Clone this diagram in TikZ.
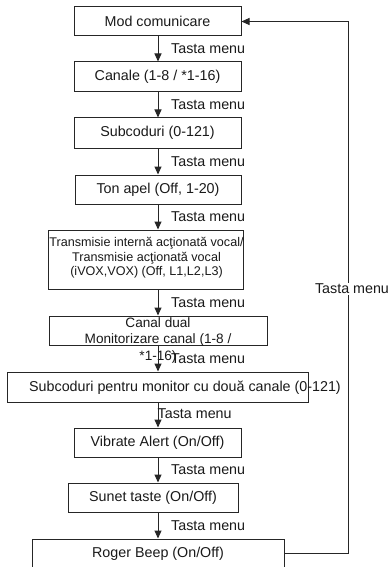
\documentclass[tikz,border=0pt]{standalone}
\usepackage{fontspec}
\setmainfont{Liberation Sans}
\usetikzlibrary{arrows.meta}

\tikzset{
  menubox/.style={draw=black!85, line width=1pt, rectangle, inner sep=0pt, minimum height=29pt},
  menutext/.style={inner sep=0pt, text=black!90, font=\fontsize{14.3}{16}\selectfont},
  keylabel/.style={menutext, anchor=west},
  navarrow/.style={draw=black!85, line width=1pt, -{Triangle[length=8pt,width=7pt]}}
}

\begin{document}
\begin{tikzpicture}[x=1pt,y=-1pt]
\useasboundingbox (0,0) rectangle (391,567);
\coordinate (arrx) at (158,0);
\coordinate (loopx) at (348,0);
% menu boxes
\node[menubox, menutext, minimum width=167pt] (mode) at (157.5,21.5) {Mod comunicare};
\node[menubox, menutext, minimum width=167pt, minimum height=30pt] (chan) at (157.5,77) {Canale (1-8 / *1-16)};
\node[menubox, menutext, minimum width=167pt, minimum height=30pt] (subc) at (157.5,133) {Subcoduri (0-121)};
\node[menubox, menutext, minimum width=166pt] (tone) at (158,189.5) {Ton apel (Off, 1-20)};
\node[menubox, minimum width=195pt, minimum height=59pt] (vox) at (145.5,259.5) {};
\node[menutext, align=center, font=\fontsize{12.6}{14.5}\selectfont] (voxtext) at (146.5,258)
  {Transmisie intern\u{a} ac\c{t}ionat\u{a} vocal/\\Transmisie ac\c{t}ionat\u{a} vocal\\(iVOX,VOX) (Off, L1,L2,L3)};
\node[menubox, minimum width=218pt] (dual) at (158,330.5) {};
\node[menutext, align=center, font=\fontsize{13.6}{16.5}\selectfont] (dualtext) at (158,340)
  {Canal dual\\Monitorizare canal (1-8 /\\*1-16)};
\node[menubox, minimum width=301pt, minimum height=30pt] (dsub) at (157.5,387) {};
\node[menutext] (dsubtext) at (185,388) {Subcoduri pentru monitor cu dou\u{a} canale (0-121)};
\node[menubox, menutext, minimum width=167pt] (vib) at (157.5,442.5) {Vibrate Alert (On/Off)};
\node[menubox, menutext, minimum width=170pt] (keys) at (153,497.5) {Sunet taste (On/Off)};
\node[menubox, menutext, minimum width=252pt] (beep) at (158,553.5) {Roger Beep (On/Off)};
% arrows down
\draw[navarrow] (mode.south -| arrx) -- (chan.north -| arrx);
\draw[navarrow] (chan.south -| arrx) -- (subc.north -| arrx);
\draw[navarrow] (subc.south -| arrx) -- (tone.north -| arrx);
\draw[navarrow] (tone.south -| arrx) -- (vox.north -| arrx);
\draw[navarrow] (vox.south -| arrx) -- (dual.north -| arrx);
\draw[navarrow] (dual.south -| arrx) -- (dsub.north -| arrx);
\draw[navarrow] (dsub.south -| arrx) -- (vib.north -| arrx);
\draw[navarrow] (vib.south -| arrx) -- (keys.north -| arrx);
\draw[navarrow] (keys.south -| arrx) -- (beep.north -| arrx);
% key labels
\node[keylabel] (k1) at (171,49) {Tasta menu};
\node[keylabel] (k2) at (171,105) {Tasta menu};
\node[keylabel] (k3) at (171,161.5) {Tasta menu};
\node[keylabel] (k4) at (171,217) {Tasta menu};
\node[keylabel] (k5) at (171,302.5) {Tasta menu};
\node[keylabel] (k6) at (171,358.5) {Tasta menu};
\node[keylabel] (k7) at (157.5,414) {Tasta menu};
\node[keylabel] (k8) at (171,470) {Tasta menu};
\node[keylabel] (k9) at (171,525.5) {Tasta menu};
% back to start
\draw[navarrow] (beep.east) -- (loopx |- beep.east) -- (loopx |- mode.east) -- (mode.east);
\node[menutext, fill=white, inner sep=1pt] (kback) at (352,289) {Tasta menu};
\end{tikzpicture}
\end{document}
